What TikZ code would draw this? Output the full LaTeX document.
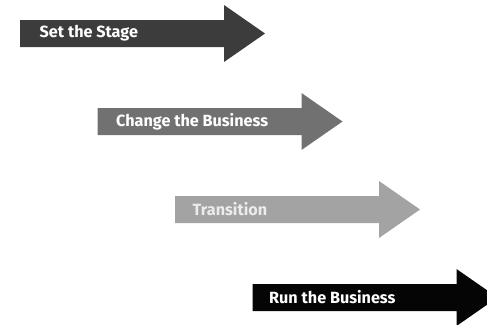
\documentclass[tikz,border=0pt]{standalone}
\usepackage{fontspec}
\newfontfamily\stagefont{Fira Sans}
\usetikzlibrary{positioning}

\definecolor{stageA}{HTML}{3C3C3C}
\definecolor{stageB}{HTML}{717171}
\definecolor{stageC}{HTML}{A3A3A3}
\definecolor{stageD}{HTML}{050505}
\definecolor{labelC}{HTML}{ECECEC}

\begin{document}
\begin{tikzpicture}[
      x=1pt, y=-1pt,
      % label sitting on the shaft of a phase arrow
      phase label/.style={anchor=west, inner sep=0pt, text=#1,
        font=\stagefont\bfseries\fontsize{16.2}{19}\selectfont},
    ]
    \useasboundingbox (0,0) rectangle (487,324);

    % ---- four phase arrows, stepping down to the right ----
    \foreach \i/\col/\txtcol/\name/\txt in {
        0/stageA/white/stage/Set the Stage,
        1/stageB/white/change/Change the Business,
        2/stageC/labelC/trans/Transition,
        3/stageD/white/run/Run the Business} {
      \pgfmathsetmacro{\lx}{20+77.5*\i}
      \pgfmathsetmacro{\cy}{33.5+88*\i}
      \fill[\col] (\lx,\cy-13.5) -- ++(204,0) -- ++(0,-15) -- (\lx+245,\cy)
        -- (\lx+204,\cy+28.5) -- ++(0,-15) -- (\lx,\cy+13.5) -- cycle;
      \node[phase label=\txtcol] (\name) at (\lx+19.5-\i,\cy) {\txt};
    }

  \end{tikzpicture}
\end{document}
